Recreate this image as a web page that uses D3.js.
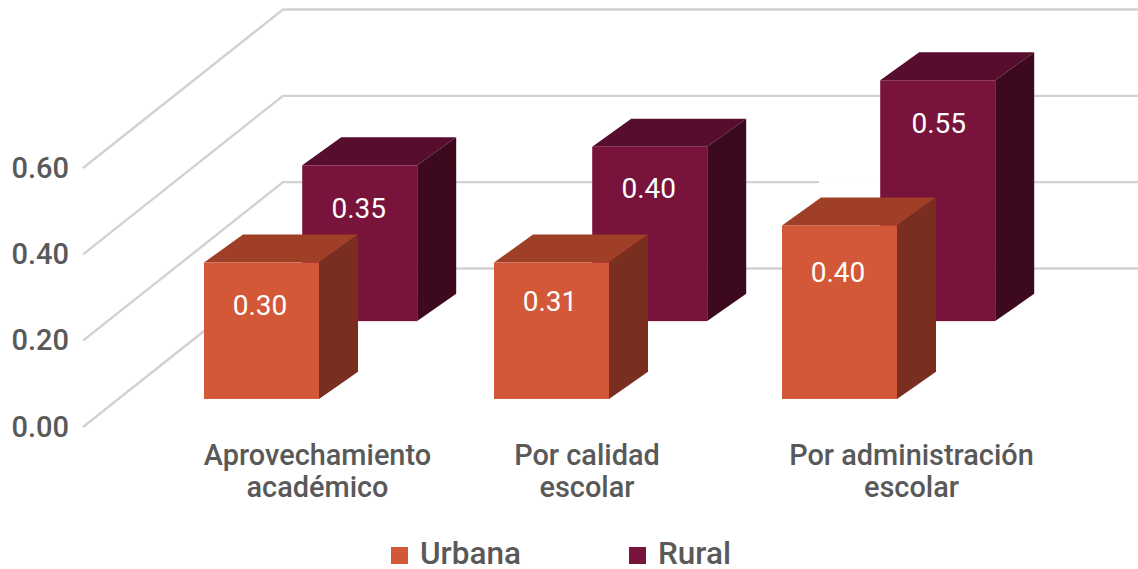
<!DOCTYPE html>
<html>
<head>
<meta charset="utf-8">
<script src="https://cdn.jsdelivr.net/npm/d3@7"></script>
<style>
  html, body { margin: 0; padding: 0; background: #fff; }
  svg { display: block; }
  text { font-family: Roboto, sans-serif; font-weight: 500; }
</style>
</head>
<body>
<svg id="chart" width="1138" height="569"></svg>
<script>
var categories = [["Aprovechamiento", "académico"], ["Por calidad", "escolar"], ["Por administración", "escolar"]];
var seriesNames = ["Urbana", "Rural"];
// bar heights, the printed labels are rounded differently
var urbanaValues = [0.316, 0.316, 0.402];
var ruralValues = [0.361, 0.404, 0.558];
var urbanaLabels = ["0.30", "0.31", "0.40"];
var ruralLabels = ["0.35", "0.40", "0.55"];
var yTicks = [0, 0.2, 0.4, 0.6];

var colors = {
  Urbana: { front: "#d35837", top: "#9f3f28", side: "#7a2e20" },
  Rural: { front: "#78133b", top: "#570d2e", side: "#3d091f" }
};

// the labels are not placed evenly in the original
var labelShift = {
  Urbana: [[-1.5, 0], [-1.5, -4], [-1.5, 4.5]],
  Rural: [[-1, 1], [-1, -1], [1, 1]]
};
var categoryShift = [56, 35.5, 72];

var svg = d3.select("#chart");

var y = d3.scaleLinear().domain([0, 0.6]).range([427, 168]);
var x = d3.scaleOrdinal().domain(d3.range(categories.length)).range([204, 494, 782]);
// depth on the floor: 0 is the front edge, 1 is the back wall
var depthX = d3.scaleLinear().domain([0, 1]).range([0, 200]);
var depthY = d3.scaleLinear().domain([0, 1]).range([0, 158.5]);
var seriesDepth = d3.scaleOrdinal().domain(seriesNames).range([0.177, 0.668]);
var rightEdge = 1138;

// grid: slanted on the side wall, flat on the back wall
var grid = svg.append("g");
yTicks.forEach(function(t) {
  var pts = [[83, y(t)], [83 + depthX(1), y(t) - depthY(1)], [rightEdge, y(t) - depthY(1)]];
  grid.append("path")
    .attr("d", d3.line()(pts))
    .attr("fill", "none")
    .attr("stroke", "#d2d2d2")
    .attr("stroke-width", 2.4);
});

// the original has a white gap on the 0.20 back line next to the last rural bar
grid.append("line")
  .attr("x1", x(2) + 37).attr("x2", x(2) + 100)
  .attr("y1", y(0.2) - depthY(1)).attr("y2", y(0.2) - depthY(1))
  .attr("stroke", "#fff").attr("stroke-width", 3.4);

var yAxis = d3.axisLeft(y).tickValues(yTicks).tickSize(0).tickPadding(0).tickFormat(d3.format(".2f"));
var axisG = svg.append("g").attr("transform", "translate(69,0)").call(yAxis);
axisG.select(".domain").remove();
axisG.selectAll("text").attr("font-size", 29).attr("fill", "#595959").style("font-family", "Roboto, sans-serif");

var boxW = 115, boxDx = 39, boxDy = 28, boxDyBottom = 27.3;

function drawSeries(name, values, labels) {
  var c = colors[name];
  var shiftX = depthX(seriesDepth(name)) - depthX(seriesDepth("Urbana"));
  var shiftY = depthY(seriesDepth(name));
  var g = svg.append("g");
  var bar = g.selectAll("g").data(values).enter().append("g");

  bar.each(function(d, i) {
    var left = x(i) + shiftX, right = left + boxW;
    var bottom = y(0) - shiftY, top = y(d) - shiftY;
    var el = d3.select(this);
    el.append("path").attr("fill", c.top)
      .attr("d", d3.line()([[left, top], [left + boxDx, top - boxDy], [right + boxDx, top - boxDy], [right, top]]) + "Z");
    el.append("path").attr("fill", c.side)
      .attr("d", d3.line()([[right, top], [right + boxDx, top - boxDy], [right + boxDx, bottom - boxDyBottom], [right, bottom]]) + "Z");
    el.append("rect").attr("fill", c.front)
      .attr("x", left).attr("y", top).attr("width", boxW).attr("height", bottom - top);
    el.append("text")
      .attr("x", left + boxW / 2 + labelShift[name][i][0])
      .attr("y", top + 52 + labelShift[name][i][1])
      .attr("text-anchor", "middle")
      .attr("font-size", 28)
      .style("font-weight", 450)
      .attr("fill", "#fff")
      .text(labels[i]);
  });
}

drawSeries("Rural", ruralValues, ruralLabels);
drawSeries("Urbana", urbanaValues, urbanaLabels);

var catG = svg.append("g");
categories.forEach(function(lines, i) {
  lines.forEach(function(line, j) {
    catG.append("text")
      .attr("x", x(i) + boxW / 2 + categoryShift[i])
      .attr("y", 465 + j * 32)
      .attr("text-anchor", "middle")
      .attr("font-size", 28.9)
      .attr("fill", "#595959")
      .text(line);
  });
});

// legend
var legendX = d3.scaleOrdinal().domain(seriesNames).range([391, 629]);
var legend = svg.append("g").selectAll("g").data(seriesNames).enter().append("g")
  .attr("transform", function(d) { return "translate(" + legendX(d) + ",547)"; });
legend.append("rect").attr("width", 17).attr("height", 17).attr("fill", function(d) { return colors[d].front; });
legend.append("text").attr("x", 29).attr("y", 17).attr("font-size", 31.5).attr("fill", "#595959").text(function(d) { return d; });
</script>
</body>
</html>
